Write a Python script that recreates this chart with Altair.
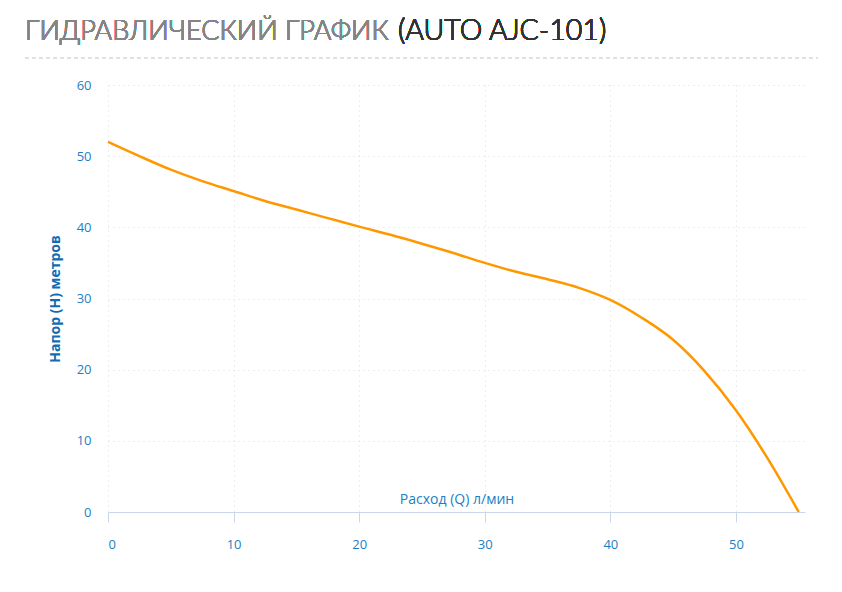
import altair as alt
import pandas as pd

flow = [0, 2.5, 5, 7.5, 10, 12.5, 15, 17.5, 20, 22.5, 25, 27.5, 30, 32.5, 35, 37.5, 40, 42.5, 45, 47.5, 50, 52.5, 55]
head = [52, 50.0, 48.1, 46.5, 45.1, 43.7, 42.5, 41.3, 40.1, 38.95, 37.7, 36.4, 35, 33.75, 32.7, 31.5, 29.8, 27.3, 24.2, 19.8, 14.3, 7.6, 0]
x_ticks = [0, 10, 20, 30, 40, 50]
y_ticks = [0, 10, 20, 30, 40, 50, 60]

title_main = "ГИДРАВЛИЧЕСКИЙ ГРАФИК"
title_model = "(AUTO AJC-101)"
x_title = "Расход (Q) л/мин"
y_title = "Напор (H) метров"

df = pd.DataFrame({"q": flow, "h": head})

W, H = 697, 427
FONT = "Open Sans"

line = alt.Chart(df).mark_line(color="#ff9800", strokeWidth=2.5, interpolate="monotone").encode(
    x=alt.X("q:Q",
            scale=alt.Scale(domain=[0, 55.5], nice=False, zero=False),
            axis=alt.Axis(values=x_ticks, title=x_title, grid=True, gridDash=[1, 4],
                          gridColor="#dddddd", domainColor="#ccd6eb", tickColor="#ccd6eb",
                          tickSize=10, labelPadding=16, labelColor="#1c7fc4", labelFontSize=13,
                          labelFont=FONT, titleFont=FONT, titleFontSize=14,
                          titleFontWeight="normal", titleColor="#1c7fc4",
                          titleBaseline="alphabetic", titleY=-9)),
    y=alt.Y("h:Q",
            scale=alt.Scale(domain=[0, 60], nice=False),
            axis=alt.Axis(values=y_ticks, title=y_title, grid=True, gridDash=[1, 4],
                          gridColor="#dddddd", domain=False, ticks=False, labelPadding=17,
                          labelColor="#1c7fc4", labelFontSize=13, labelFont=FONT,
                          titleFont=FONT, titleFontSize=14, titleFontWeight="bold",
                          titleColor="#0f6db3", titlePadding=14)),
)

sep = alt.Chart(df).mark_rule(color="#e0e0e0", strokeDash=[4, 3], strokeWidth=1).encode(
    x=alt.value(-83), x2=alt.value(710), y=alt.value(-27)
)

t1 = alt.Chart(df).mark_text(text=title_main, align="left", baseline="alphabetic",
                             font="Lato", fontSize=27, fontWeight=300, color="#858585").encode(
    x=alt.value(-83), y=alt.value(-45)
)
t2 = alt.Chart(df).mark_text(text=title_model, align="left", baseline="alphabetic",
                             font="Lato", fontSize=28.5, fontWeight=300, color="#333333").encode(
    x=alt.value(290), y=alt.value(-45)
)

chart = alt.layer(sep, t1, t2, line).properties(
    width=W, height=H,
    autosize=alt.AutoSizeParams(type="none"),
    padding={"left": 100, "top": 77, "right": 20, "bottom": 50},
).configure_view(stroke=None)

chart.save("out.html", embed_options={"renderer": "svg", "actions": False})
